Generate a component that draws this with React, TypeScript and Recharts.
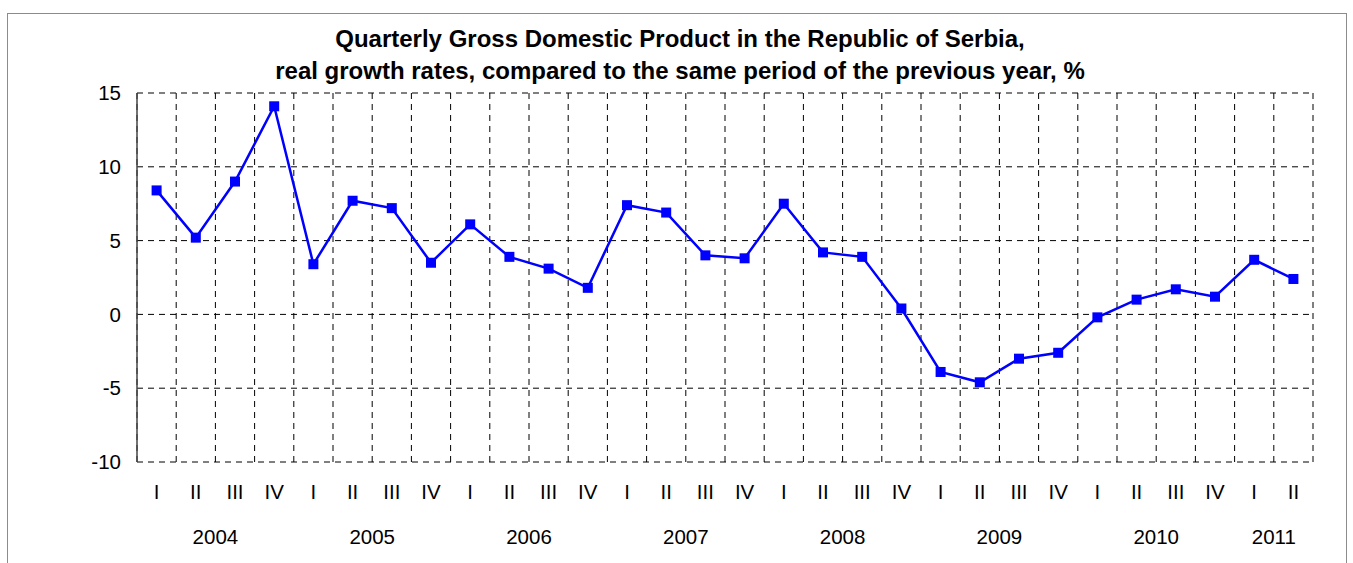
import { LineChart, Line, XAxis, YAxis, CartesianGrid } from "recharts";

const quarters = [
  "I", "II", "III", "IV", "I", "II", "III", "IV", "I", "II", "III", "IV",
  "I", "II", "III", "IV", "I", "II", "III", "IV", "I", "II", "III", "IV",
  "I", "II", "III", "IV", "I", "II",
];
const years = [
  "2004", "2004", "2004", "2004", "2005", "2005", "2005", "2005",
  "2006", "2006", "2006", "2006", "2007", "2007", "2007", "2007",
  "2008", "2008", "2008", "2008", "2009", "2009", "2009", "2009",
  "2010", "2010", "2010", "2010", "2011", "2011",
];
const gdpGrowth = [
  8.4, 5.2, 9.0, 14.1, 3.4, 7.7, 7.2, 3.5, 6.1, 3.9, 3.1, 1.8,
  7.4, 6.9, 4.0, 3.8, 7.5, 4.2, 3.9, 0.4, -3.9, -4.6, -3.0, -2.6,
  -0.2, 1.0, 1.7, 1.2, 3.7, 2.4,
];
const yTicks = [-10, -5, 0, 5, 10, 15];

const data = quarters.map((q, i) => ({
  key: `${years[i]}-${q}`,
  q,
  year: years[i],
  value: gdpGrowth[i],
}));

const FONT = "'Liberation Sans', Arial, sans-serif";
const N = data.length;
const PLOT_W = 1176;
const BAND = PLOT_W / N;

function SquareDot(props: any) {
  const { cx, cy } = props;
  if (cx == null || cy == null) return null;
  return <rect x={cx - 5} y={cy - 5} width={10} height={10} fill="#0000ff" />;
}

// quarter numeral under each point, year centred under its quarters
function QuarterTick(props: any) {
  const { x, y, index } = props;
  const d = data[index];
  if (!d) return null;
  const sameYear = data.filter((r) => r.year === d.year);
  const pos = sameYear.indexOf(d);
  const showYear = pos === sameYear.length / 2 - 1;
  return (
    <g>
      <text x={x} y={y + 29} textAnchor="middle" fontSize={20.5} fontFamily={FONT} fill="#000">
        {d.q}
      </text>
      {showYear && (
        <text x={x + BAND / 2} y={y + 74} textAnchor="middle" fontSize={20.5} fontFamily={FONT} fill="#000">
          {d.year}
        </text>
      )}
    </g>
  );
}

export default function App() {
  return (
    <div style={{ position: "absolute", left: 0, top: 0, width: 1353, height: 563, background: "#fff", overflow: "hidden" }}>
      <div
        style={{
          position: "absolute",
          left: 7,
          top: 13,
          width: 1340,
          height: 550,
          borderTop: "1px solid #8c8c8c",
          borderLeft: "1px solid #8c8c8c",
          borderRight: "1px solid #8c8c8c",
          boxSizing: "border-box",
        }}
      />
      <div
        style={{
          position: "absolute",
          left: 0,
          top: 23,
          width: 1360,
          textAlign: "center",
          fontFamily: FONT,
          fontWeight: "bold",
          fontSize: 24,
          lineHeight: "32px",
          color: "#000",
        }}
      >
        Quarterly Gross Domestic Product in the Republic of Serbia,
        <br />
        real growth rates, compared to the same period of the previous year, %
      </div>
      <div style={{ position: "absolute", left: 0, top: 0 }}>
        <LineChart width={1353} height={563} data={data} margin={{ top: 93, right: 40, bottom: 0, left: 0 }}>
          <CartesianGrid
            stroke="#000"
            strokeDasharray="6 5"
            horizontal={true}
            vertical={true}
            verticalCoordinatesGenerator={({ offset }: any) =>
              Array.from({ length: N + 1 }, (_, i) => offset.left + (i * offset.width) / N)
            }
          />
          <XAxis
            dataKey="key"
            interval={0}
            height={101}
            padding={{ left: BAND / 2, right: BAND / 2 }}
            axisLine={false}
            tickLine={false}
            tick={<QuarterTick />}
          />
          <YAxis
            domain={[-10, 15]}
            ticks={yTicks}
            width={137}
            axisLine={{ stroke: "#444", strokeWidth: 1.5 }}
            tickLine={false}
            tickMargin={10}
            tick={{ fontSize: 20.5, fontFamily: FONT, fill: "#000" }}
            interval={0}
          />
          <Line
            type="linear"
            dataKey="value"
            stroke="#0000ff"
            strokeWidth={2.5}
            dot={<SquareDot />}
            activeDot={false}
            isAnimationActive={false}
          />
        </LineChart>
      </div>
    </div>
  );
}
